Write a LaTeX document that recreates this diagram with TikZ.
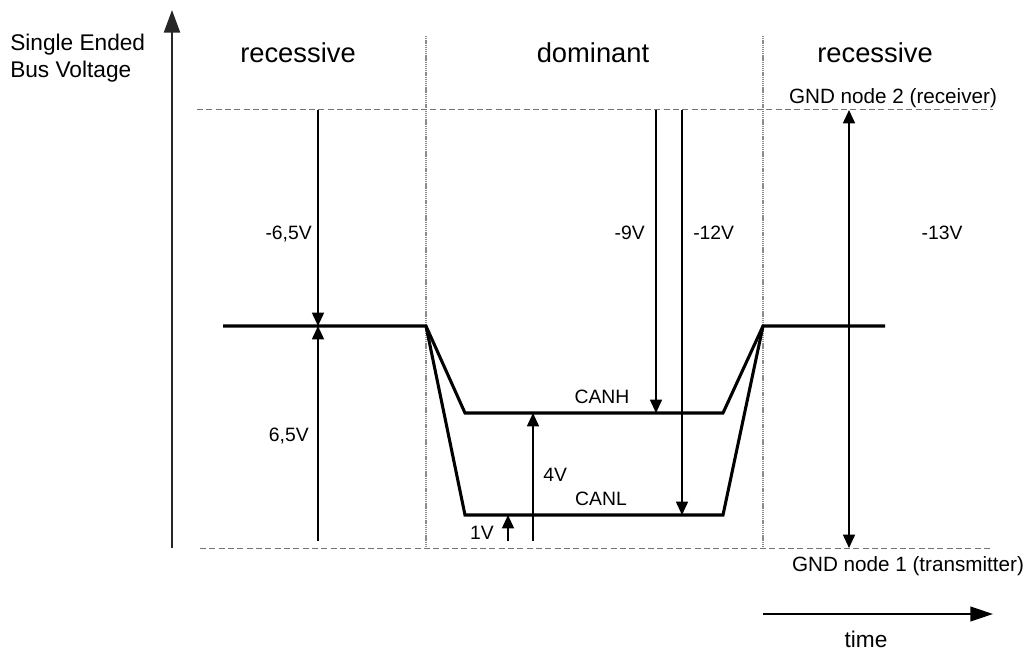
\documentclass[tikz,border=0pt]{standalone}
\usepackage{fontspec}
\setmainfont{Liberation Sans}
\usetikzlibrary{arrows.meta}
\begin{document}
\begin{tikzpicture}[x=0.75pt,y=-0.75pt,
 sig/.style={line width=2.3pt, line join=miter},
 meas/.style={line width=1.2pt,-{Triangle[length=10pt,width=9pt]}},
 measboth/.style={line width=1.2pt,{Triangle[length=10pt,width=9pt]}-{Triangle[length=10pt,width=9pt]}},
 axisarrow/.style={line width=1.8pt,draw=black!85,-{Triangle[length=17pt,width=12pt]}},
 timearrow/.style={line width=1.5pt,-{Triangle[length=17pt,width=11pt]}},
 divider/.style={draw=black!45,line width=0.8pt,dash pattern=on 1pt off 0.6pt},
 gndline/.style={draw=black!55,line width=0.75pt,dash pattern=on 4.5pt off 2.5pt},
 lbl/.style={font=\fontsize{14.5}{17}\selectfont,inner sep=0pt},
 gndlbl/.style={font=\fontsize{15.5}{18}\selectfont,inner sep=0pt},
 hdr/.style={font=\fontsize{20.5}{24}\selectfont,inner sep=0pt},
 ttl/.style={font=\fontsize{17}{20.5}\selectfont,inner sep=0pt},
]
\useasboundingbox (0,0) rectangle (1031,652);

% coordinates
\coordinate (ytail) at (172,548);
\coordinate (ytip)  at (172,10);
\coordinate (d1t) at (426,36);  \coordinate (d1b) at (426,548);
\coordinate (d2t) at (763,36);  \coordinate (d2b) at (763,548);
\coordinate (g2l) at (197,110); \coordinate (g2r) at (993,110);
\coordinate (g1l) at (200,548); \coordinate (g1r) at (993,548);
\coordinate (rl) at (223,326);
\coordinate (r1) at (426,326);
\coordinate (h1) at (465,413);
\coordinate (h2) at (723,413);
\coordinate (l1) at (465,515);
\coordinate (l2) at (723,515);
\coordinate (r2) at (763,326);
\coordinate (rr) at (885,326);
% measurement end points
\coordinate (m1t) at (318,110); \coordinate (m1b) at (318,326);
\coordinate (m2b) at (318,541); \coordinate (m2t) at (318,326);
\coordinate (m3b) at (533,541); \coordinate (m3t) at (533,413);
\coordinate (m4b) at (508,541); \coordinate (m4t) at (508,515);
\coordinate (m5t) at (656,110); \coordinate (m5b) at (656,413);
\coordinate (m6t) at (682,110); \coordinate (m6b) at (682,515);
\coordinate (m7t) at (849,110); \coordinate (m7b) at (849,548);
\coordinate (tl) at (763,614);  \coordinate (tr) at (993,614);

% guide lines
\draw[divider] (d1t) -- (d1b);
\draw[divider] (d2t) -- (d2b);
\draw[gndline] (g2l) -- (g2r);
\draw[gndline] (g1l) -- (g1r);

% axis
\draw[axisarrow] (ytail) -- (ytip);

% signals
\draw[sig] (rl) -- (r1) -- (h1) -- (h2) -- (r2) -- (rr);
\draw[sig] (r1) -- (l1) -- (l2) -- (r2);

% measurement arrows
\draw[meas] (m1t) -- (m1b);
\draw[meas] (m2b) -- (m2t);
\draw[meas] (m3b) -- (m3t);
\draw[meas] (m4b) -- (m4t);
\draw[meas] (m5t) -- (m5b);
\draw[meas] (m6t) -- (m6b);
\draw[measboth] (m7t) -- (m7b);
\draw[timearrow] (tl) -- (tr);

% texts
\node[ttl,anchor=base west] (t1) at (10,51) {Single Ended};
\node[ttl,anchor=base west] (t2) at (10,78) {Bus Voltage};
\node[hdr,anchor=base] (h_rec1) at (298,63) {recessive};
\node[hdr,anchor=base] (h_dom) at (593,63) {dominant};
\node[hdr,anchor=base] (h_rec2) at (875,63) {recessive};
\node[gndlbl,anchor=base] (gnd2) at (893,104) {GND node 2 (receiver)};
\node[gndlbl,anchor=base] (gnd1) at (908,571) {GND node 1 (transmitter)};
\node[ttl,anchor=base] (time) at (866,647) {time};

\node[lbl,anchor=base east] (lm1) at (312,240) {-6,5V};
\node[lbl,anchor=base east] (lm2) at (309,441) {6,5V};
\node[lbl,anchor=base west] (lm3) at (543,481) {4V};
\node[lbl,anchor=base east] (lm4) at (494,539) {1V};
\node[lbl,anchor=base east] (lm5) at (645,240) {-9V};
\node[lbl,anchor=base west] (lm6) at (693,240) {-12V};
\node[lbl,anchor=base] (lm7) at (942,240) {-13V};
\node[lbl,anchor=base] (canh) at (602,403) {CANH};
\node[lbl,anchor=base] (canl) at (601,505) {CANL};
\end{tikzpicture}
\end{document}
